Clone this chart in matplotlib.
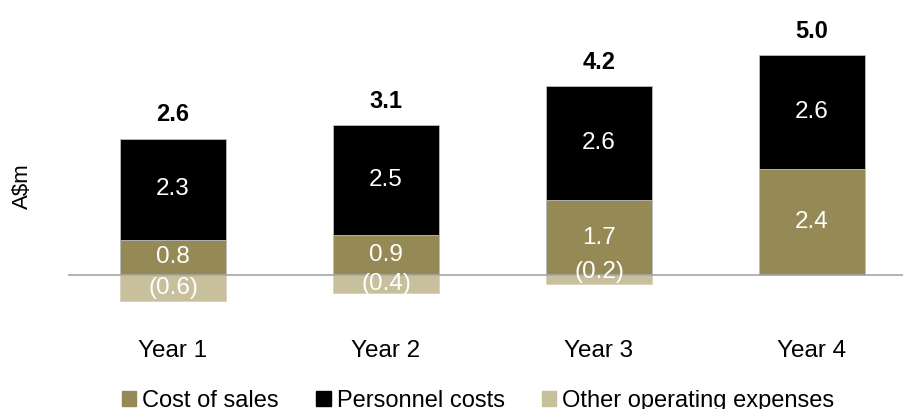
import matplotlib.pyplot as plt
from matplotlib.patches import Patch

plt.rcParams['font.family'] = ['Liberation Sans', 'DejaVu Sans']

years = ["Year 1", "Year 2", "Year 3", "Year 4"]
cost_of_sales = [0.8, 0.9, 1.7, 2.4]
personnel = [2.3, 2.5, 2.6, 2.6]
other_opex = [-0.6, -0.4, -0.2, 0.0]
totals = [2.6, 3.1, 4.2, 5.0]

c_cos = "#958A56"
c_pers = "#000000"
c_other = "#C8BF9C"

fig = plt.figure(figsize=(9.04, 4.09), dpi=100)
ax = fig.add_axes([68 / 904, 1 - 330 / 409, 836 / 904, 320 / 409])

x = list(range(len(years)))
w = 0.5
ax.bar(x, cost_of_sales, w, color=c_cos, edgecolor="#BDBDBD", linewidth=0.6, zorder=2)
ax.bar(x, personnel, w, bottom=cost_of_sales, color=c_pers, edgecolor="#BDBDBD", linewidth=0.6, zorder=2)
ax.bar(x, other_opex, w, color=c_other, edgecolor="#D8D2BC", linewidth=0.6, zorder=2)

ax.axhline(0, color="#A6A6A6", linewidth=1.2, zorder=3)

for i in x:
    ax.text(i, cost_of_sales[i] / 2, f"{cost_of_sales[i]:.1f}", ha="center", va="center",
            color="white", fontsize=17.5, zorder=4)
    ax.text(i, cost_of_sales[i] + personnel[i] / 2, f"{personnel[i]:.1f}", ha="center", va="center",
            color="white", fontsize=17.5, zorder=4)
    if other_opex[i] < 0:
        yo = other_opex[i] / 2 if other_opex[i] < -0.3 else 0.07
        ax.text(i, yo, f"({abs(other_opex[i]):.1f})", ha="center", va="center",
                color="white", fontsize=17.5, zorder=4)
    top = cost_of_sales[i] + personnel[i]
    ax.annotate(f"{totals[i]:.1f}", (i, top), xytext=(0, 17), textcoords="offset points",
                ha="center", va="center", fontsize=17, fontweight="bold", color="black")

ax.set_xlim(-0.493, 3.432)
ax.set_ylim(-1.25, 6.02)
ax.set_xticks(x)
ax.set_xticklabels(years, fontsize=17.5)
ax.tick_params(axis="x", length=0, pad=7)
ax.set_yticks([])
for s in ax.spines.values():
    s.set_visible(False)

fig.text(22 / 904, 1 - 186 / 409, "A$m", rotation=90, ha="center", va="center", fontsize=16)

handles = [Patch(color=c_cos, label="Cost of sales"),
           Patch(color=c_pers, label="Personnel costs"),
           Patch(color=c_other, label="Other operating expenses")]
fig.legend(handles=handles, loc="center", bbox_to_anchor=(0.529, 1 - 401 / 409), ncol=3,
           frameon=False, fontsize=17, handlelength=0.6, handleheight=0.6,
           handletextpad=0.25, columnspacing=1.6)

fig.savefig("out.png", dpi=100)
